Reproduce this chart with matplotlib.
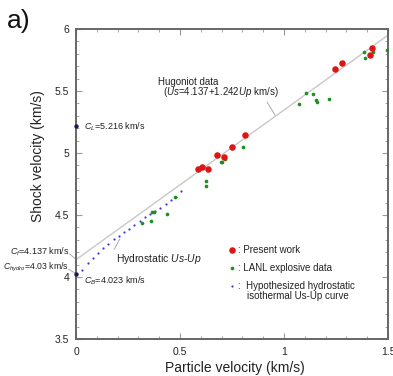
import numpy as np
import matplotlib
matplotlib.use("Agg")
import matplotlib.pyplot as plt
from matplotlib.ticker import MultipleLocator

plt.rcParams['font.family'] = ['Liberation Sans', 'DejaVu Sans']
plt.rcParams['mathtext.fontset'] = 'custom'
plt.rcParams['mathtext.rm'] = 'Liberation Sans'
plt.rcParams['mathtext.it'] = 'Liberation Sans:italic'

# present work (red)
present_up = [1.425, 1.413, 1.280, 1.245, 0.812, 0.749, 0.712, 0.678, 0.636, 0.604, 0.588]
present_us = [5.844, 5.790, 5.726, 5.675, 5.148, 5.046, 4.970, 4.984, 4.873, 4.890, 4.873]

# LANL explosive data (green)
lanl_up = [1.494, 1.426, 1.385, 1.389, 1.106, 1.138, 1.154, 1.160, 1.215, 1.072,
           0.804, 0.716, 0.702, 0.696, 0.625, 0.625,
           0.319, 0.361, 0.367, 0.373, 0.437, 0.476]
lanl_us = [5.831, 5.817, 5.812, 5.763, 5.486, 5.473, 5.427, 5.409, 5.435, 5.395,
           5.051, 4.949, 4.927, 4.925, 4.772, 4.731,
           4.438, 4.452, 4.522, 4.527, 4.506, 4.648]

# hypothesized hydrostatic isothermal curve (blue)
hydro_up = [0.030, 0.059, 0.083, 0.107, 0.131, 0.155, 0.183, 0.207, 0.232, 0.256,
            0.280, 0.308, 0.332, 0.356, 0.380, 0.404, 0.431, 0.457, 0.479, 0.505]
hydro_us = [4.056, 4.115, 4.156, 4.191, 4.231, 4.266, 4.304, 4.333, 4.360, 4.387,
            4.419, 4.454, 4.481, 4.505, 4.532, 4.556, 4.586, 4.618, 4.648, 4.694]

# Hugoniot fit line, as drawn
fit_up = [0.0, 1.5]
fit_us = [4.14, 5.95]

# sound speeds on the Us axis
c_up = [0.0, 0.0]
c_us = [5.216, 4.023]

fig = plt.figure(figsize=(3.93, 3.76), dpi=100)
ax = fig.add_axes([0.1934, 0.0984, 0.7939, 0.8245])

ax.plot(fit_up, fit_us, color='#c8c8c8', lw=1.0, zorder=1)
ax.scatter(hydro_up, hydro_us, s=2.5, color='#3a3ad0', zorder=3, lw=0)
ax.scatter(lanl_up, lanl_us, s=7, color='#1f8f1f', zorder=4, lw=0)
ax.scatter(present_up, present_us, s=22, color='#dd1515', zorder=5, lw=0)
ax.scatter(c_up, c_us, s=10, color='#1a1a55', zorder=6, lw=0, clip_on=False)

ax.set_xlim(0, 1.5)
ax.set_ylim(3.5, 6)
ax.xaxis.set_minor_locator(MultipleLocator(0.1))
ax.yaxis.set_minor_locator(MultipleLocator(0.1))
ax.set_xticks([0, 0.5, 1, 1.5])
ax.set_xticklabels(['0', '0.5', '1', '1.5'])
ax.set_yticks([3.5, 4, 4.5, 5, 5.5, 6])
ax.set_yticklabels(['3.5', '4', '4.5', '5', '5.5', '6'])
ax.tick_params(which='both', direction='in', top=True, right=True,
               color='#999999', labelsize=7.5, labelcolor='#222222')
ax.tick_params(which='major', length=4, width=0.8)
ax.tick_params(which='minor', length=2.5, width=0.6)
ax.tick_params(axis='x', pad=6)
ax.tick_params(axis='y', pad=5)
for sp in ax.spines.values():
    sp.set_color('#666666')
    sp.set_linewidth(1.4)

ax.set_xlabel('Particle velocity (km/s)', fontsize=10, color='#222222')
ax.set_ylabel('Shock velocity (km/s)', fontsize=10, color='#222222')
ax.xaxis.set_label_coords(0.51, -0.07)
ax.yaxis.set_label_coords(-0.1, 0.59)

fs = 6.5
# Hugoniot label
ax.text(0.394, 5.575, 'Hugoniot data', fontsize=7, color='#222222', ha='left', va='center')
ax.text(0.418, 5.49, r'($\mathit{Us}$=4.137+1.242$\mathit{Up}$ km/s)', fontsize=7,
        color='#222222', ha='left', va='center')
ax.plot([0.919, 0.957], [5.409, 5.306], color='#aaaaaa', lw=0.7)

# Hydrostatic label
ax.text(0.19, 4.145, r'Hydrostatic $\mathit{Us}$-$\mathit{Up}$', fontsize=7.5,
        color='#222222', ha='left', va='center')
ax.plot([0.184, 0.21], [4.225, 4.305], color='#aaaaaa', lw=0.7)

# sound speed labels
ax.text(0.04, 5.21, r'$C_L$=5.216 km/s', fontsize=fs, color='#222222', ha='left', va='center')
ax.text(0.04, 3.97, r'$C_B$=4.023 km/s', fontsize=fs, color='#222222', ha='left', va='center')
ax.text(-0.03, 4.205, r'$C_f$=4.137 km/s', fontsize=fs, color='#222222',
        ha='right', va='center', clip_on=False)
ax.text(-0.035, 4.075, r'$C_{hydro}$=4.03 km/s', fontsize=6.2, color='#222222',
        ha='right', va='center', clip_on=False)
ax.plot([-0.03, 0.0], [4.185, 4.142], color='#aaaaaa', lw=0.7, clip_on=False)
ax.plot([-0.035, 0.0], [4.062, 4.027], color='#aaaaaa', lw=0.7, clip_on=False)

# legend
leg_x = 0.75
ax.scatter([leg_x], [4.22], s=22, color='#dd1515', lw=0)
ax.scatter([leg_x], [4.075], s=7, color='#1f8f1f', lw=0)
ax.scatter([leg_x], [3.925], s=2.5, color='#3a3ad0', lw=0)
ax.text(leg_x + 0.03, 4.22, ': Present work', fontsize=7, color='#222222', va='center')
ax.text(leg_x + 0.03, 4.075, ': LANL explosive data', fontsize=7, color='#222222', va='center')
ax.text(leg_x + 0.03, 3.925, ':  Hypothesized hydrostatic', fontsize=7, color='#222222', va='center')
ax.text(leg_x + 0.07, 3.85, 'isothermal Us-Up curve', fontsize=7, color='#222222', va='center')

fig.text(0.018, 0.975, 'a)', fontsize=19, color='#111111', ha='left', va='top')

fig.savefig('out.png', dpi=100)
